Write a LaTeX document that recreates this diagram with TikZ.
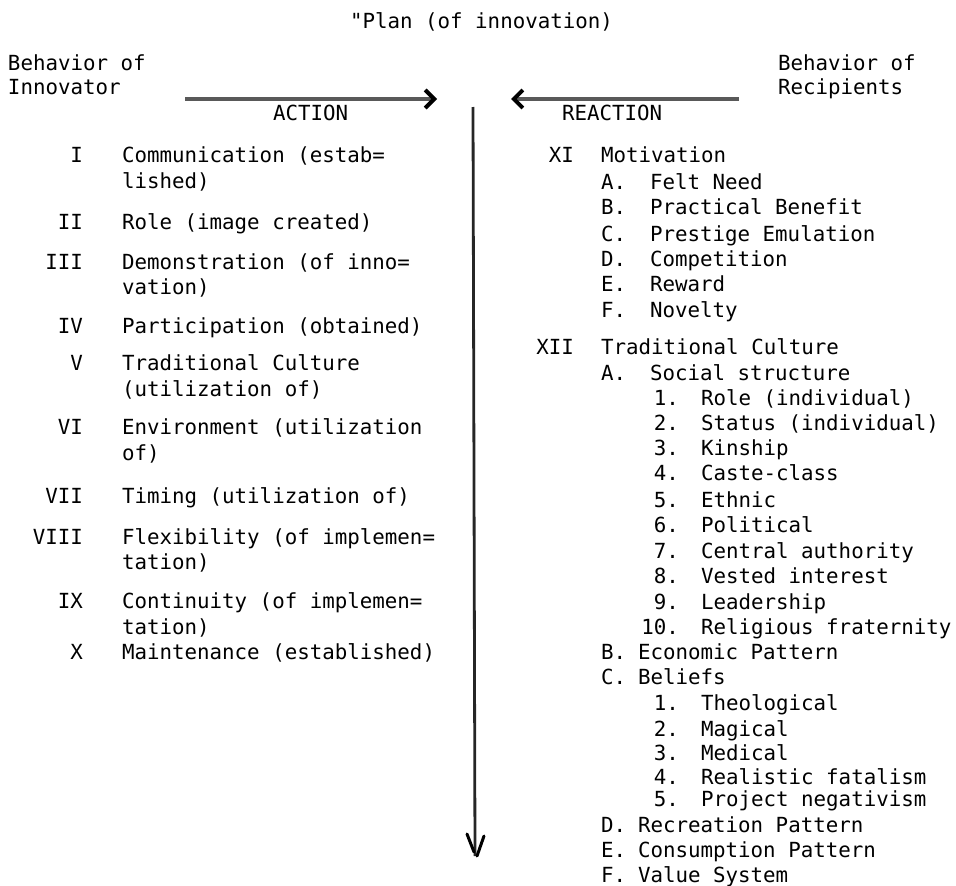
\documentclass[tikz,border=0pt]{standalone}
\usepackage{fontspec}
\setmonofont{DejaVu Sans Mono}
\usetikzlibrary{arrows.meta}
\tikzset{
  txt/.style={font=\ttfamily\fontsize{20.8}{24}\selectfont, inner sep=0pt, outer sep=0pt, anchor=base west, text=black},
  num/.style={txt, anchor=base east},
  flow/.style={line width=3.6pt, draw=black!65, -{Straight Barb[length=9pt,width=18pt,line width=4pt,color=black]}},
  axis/.style={line width=2.8pt, draw=black!85},
  tipstroke/.style={line width=3pt, draw=black, line cap=round}
}
\begin{document}
\begin{tikzpicture}[x=1pt,y=-1pt]
\useasboundingbox (0,0) rectangle (956,886);
% title and headers
\node[txt] (title) at (350,28) {"Plan (of innovation)};
\node[txt] (bl1) at (8,70) {Behavior of};
\node[txt] (bl2) at (8,94) {Innovator};
\node[txt] (br1) at (778,70) {Behavior of};
\node[txt] (br2) at (778,94) {Recipients};
\node[txt] (act) at (273,120) {ACTION};
\node[txt] (react) at (562,120) {REACTION};
% arrows
\coordinate (a1) at (185,99);
\coordinate (a2) at (437,99);
\coordinate (r1) at (739,99);
\coordinate (r2) at (511,99);
\draw[flow] (a1) -- (a2);
\draw[flow] (r1) -- (r2);
\coordinate (vtop) at (473,107);
\coordinate (vbot) at (475,856);
\coordinate (hl1) at (467,834);
\coordinate (hl2) at (474,852);
\coordinate (hr1) at (484,836);
\coordinate (hr2) at (477,856);
\draw[axis] (vtop) -- (vbot);
\draw[tipstroke] (hl1) -- (hl2);
\draw[tipstroke] (hr1) -- (hr2);
% left list
\node[num] (n1) at (83,162) {I};
\node[txt] (t1) at (122,162) {Communication (estab=};
\node[txt] (t1b) at (122,188) {lished)};
\node[num] (n2) at (83,229) {II};
\node[txt] (t2) at (122,229) {Role (image created)};
\node[num] (n3) at (83,269) {III};
\node[txt] (t3) at (122,269) {Demonstration (of inno=};
\node[txt] (t3b) at (122,294) {vation)};
\node[num] (n4) at (83,333) {IV};
\node[txt] (t4) at (122,333) {Participation (obtained)};
\node[num] (n5) at (83,370) {V};
\node[txt] (t5) at (122,370) {Traditional Culture};
\node[txt] (t5b) at (122,396) {(utilization of)};
\node[num] (n6) at (83,434) {VI};
\node[txt] (t6) at (122,434) {Environment (utilization};
\node[txt] (t6b) at (122,460) {of)};
\node[num] (n7) at (83,503) {VII};
\node[txt] (t7) at (122,503) {Timing (utilization of)};
\node[num] (n8) at (83,544) {VIII};
\node[txt] (t8) at (122,544) {Flexibility (of implemen=};
\node[txt] (t8b) at (122,569) {tation)};
\node[num] (n9) at (83,608) {IX};
\node[txt] (t9) at (122,608) {Continuity (of implemen=};
\node[txt] (t9b) at (122,634) {tation)};
\node[num] (n10) at (83,659) {X};
\node[txt] (t10) at (122,659) {Maintenance (established)};
% right list
\node[num] (n11) at (574,162) {XI};
\node[txt] (t11) at (601,162) {Motivation};
\node[txt] (m1) at (601,189) {A.};  \node[txt] (mt1) at (650,189) {Felt Need};
\node[txt] (m2) at (601,214) {B.};  \node[txt] (mt2) at (650,214) {Practical Benefit};
\node[txt] (m3) at (601,241) {C.};  \node[txt] (mt3) at (650,241) {Prestige Emulation};
\node[txt] (m4) at (601,266) {D.};  \node[txt] (mt4) at (650,266) {Competition};
\node[txt] (m5) at (601,291) {E.};  \node[txt] (mt5) at (650,291) {Reward};
\node[txt] (m6) at (601,317) {F.};  \node[txt] (mt6) at (650,317) {Novelty};
\node[num] (n12) at (574,354) {XII};
\node[txt] (t12) at (601,354) {Traditional Culture};
\node[txt] (c1) at (601,380) {A.};  \node[txt] (ct1) at (650,380) {Social structure};
\node[num] (s1) at (679,405) {1.};  \node[txt] (st1) at (701,405) {Role (individual)};
\node[num] (s2) at (679,430) {2.};  \node[txt] (st2) at (701,430) {Status (individual)};
\node[num] (s3) at (679,455) {3.};  \node[txt] (st3) at (701,455) {Kinship};
\node[num] (s4) at (679,480) {4.};  \node[txt] (st4) at (701,480) {Caste-class};
\node[num] (s5) at (679,507) {5.};  \node[txt] (st5) at (701,507) {Ethnic};
\node[num] (s6) at (679,532) {6.};  \node[txt] (st6) at (701,532) {Political};
\node[num] (s7) at (679,558) {7.};  \node[txt] (st7) at (701,558) {Central authority};
\node[num] (s8) at (679,583) {8.};  \node[txt] (st8) at (701,583) {Vested interest};
\node[num] (s9) at (679,609) {9.};  \node[txt] (st9) at (701,609) {Leadership};
\node[num] (s10) at (679,634) {10.}; \node[txt] (st10) at (701,634) {Religious fraternity};
\node[txt] (c2) at (601,659) {B.};  \node[txt] (ct2) at (638,659) {Economic Pattern};
\node[txt] (c3) at (601,684) {C.};  \node[txt] (ct3) at (638,684) {Beliefs};
\node[num] (b1) at (679,710) {1.};  \node[txt] (bt1) at (701,710) {Theological};
\node[num] (b2) at (679,736) {2.};  \node[txt] (bt2) at (701,736) {Magical};
\node[num] (b3) at (679,760) {3.};  \node[txt] (bt3) at (701,760) {Medical};
\node[num] (b4) at (679,784) {4.};  \node[txt] (bt4) at (701,784) {Realistic fatalism};
\node[num] (b5) at (679,806) {5.};  \node[txt] (bt5) at (701,806) {Project negativism};
\node[txt] (c4) at (601,832) {D.};  \node[txt] (ct4) at (638,832) {Recreation Pattern};
\node[txt] (c5) at (601,857) {E.};  \node[txt] (ct5) at (638,857) {Consumption Pattern};
\node[txt] (c6) at (601,882) {F.};  \node[txt] (ct6) at (638,882) {Value System};
\end{tikzpicture}
\end{document}
